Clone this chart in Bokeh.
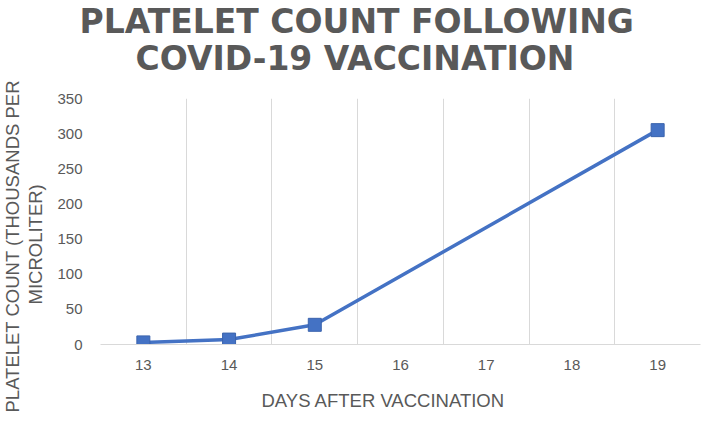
from bokeh.plotting import figure
from bokeh.models import Title, FixedTicker, Range1d
from bokeh.embed import file_html
from bokeh.resources import INLINE

days = [13, 14, 15, 19]
platelets = [3, 7, 28, 305]
x_ticks = [13, 14, 15, 16, 17, 18, 19]
y_ticks = [0, 50, 100, 150, 200, 250, 300, 350]
title_lines = ["PLATELET COUNT FOLLOWING", "COVID-19 VACCINATION"]
y_label_lines = ["PLATELET COUNT (THOUSANDS PER", "MICROLITER)"]
x_label = "DAYS AFTER VACCINATION"

GRAY = "#595959"
FONT = "Liberation Sans"
TFONT = "DejaVu Sans"

p = figure(width=701, height=415, output_backend="svg", toolbar_location=None,
           x_range=Range1d(x_ticks[0] - 0.5, x_ticks[-1] + 0.5),
           y_range=Range1d(y_ticks[0], y_ticks[-1]),
           min_border_left=100, min_border_right=1, min_border_top=98, min_border_bottom=71)
p.outline_line_color = None
p.background_fill_color = "white"
p.border_fill_color = "white"

# grid: vertical lines at category boundaries
p.xgrid.ticker = FixedTicker(ticks=[t - 0.5 for t in x_ticks] + [x_ticks[-1] + 0.5])
p.xgrid.grid_line_color = "#d9d9d9"
p.xgrid.grid_line_width = 1
p.ygrid.grid_line_color = None

# x axis
p.xaxis.ticker = FixedTicker(ticks=x_ticks)
p.xaxis.axis_line_color = "#d9d9d9"
p.xaxis.major_tick_line_color = None
p.xaxis.minor_tick_line_color = None
p.xaxis.major_tick_out = 0
p.xaxis.major_tick_in = 0
p.xaxis.minor_tick_out = 0
p.xaxis.major_label_text_font = FONT
p.xaxis.major_label_text_font_size = "15px"
p.xaxis.major_label_text_color = GRAY
p.xaxis.major_label_standoff = 15

# y axis
p.yaxis.ticker = FixedTicker(ticks=y_ticks)
p.yaxis.axis_line_color = None
p.yaxis.major_tick_line_color = None
p.yaxis.minor_tick_line_color = None
p.yaxis.major_tick_out = 0
p.yaxis.major_tick_in = 0
p.yaxis.minor_tick_out = 0
p.yaxis.major_label_text_font = FONT
p.yaxis.major_label_text_font_size = "15px"
p.yaxis.major_label_text_color = GRAY
p.yaxis.major_label_standoff = 18

# data
p.line(days, platelets, line_color="#4472C4", line_width=3.5)
p.scatter(days, platelets, marker="square", size=13,
          fill_color="#4472C4", line_color="#3B64AD", line_width=1)


def spacer(side, gap):
    p.add_layout(Title(text=" ", text_font_size="1px", standoff=gap), side)


# title (first added = closest to plot)
spacer("above", 17.4)
p.add_layout(Title(text=title_lines[1], text_font=TFONT, text_font_size="33px",
                   text_font_style="bold", text_color=GRAY, align="left",
                   offset=35, standoff=-1.8), "above")
p.add_layout(Title(text=title_lines[0], text_font=TFONT, text_font_size="33px",
                   text_font_style="bold", text_color=GRAY, align="left",
                   offset=-21, standoff=-4), "above")

# x label
spacer("below", 12.3)
p.add_layout(Title(text=x_label, text_font=FONT, text_font_size="18.5px",
                   text_font_style="normal", text_color=GRAY, align="left",
                   offset=161, standoff=0), "below")

# y label lines
spacer("left", 3.1)
p.add_layout(Title(text=y_label_lines[1], text_font=FONT, text_font_size="18.5px",
                   text_font_style="normal", text_color=GRAY, align="left",
                   offset=40, standoff=4.6), "left")
p.add_layout(Title(text=y_label_lines[0], text_font=FONT, text_font_size="18.5px",
                   text_font_style="normal", text_color=GRAY, align="left",
                   offset=-68, standoff=-4), "left")

open("out.html", "w").write(file_html(p, INLINE))
